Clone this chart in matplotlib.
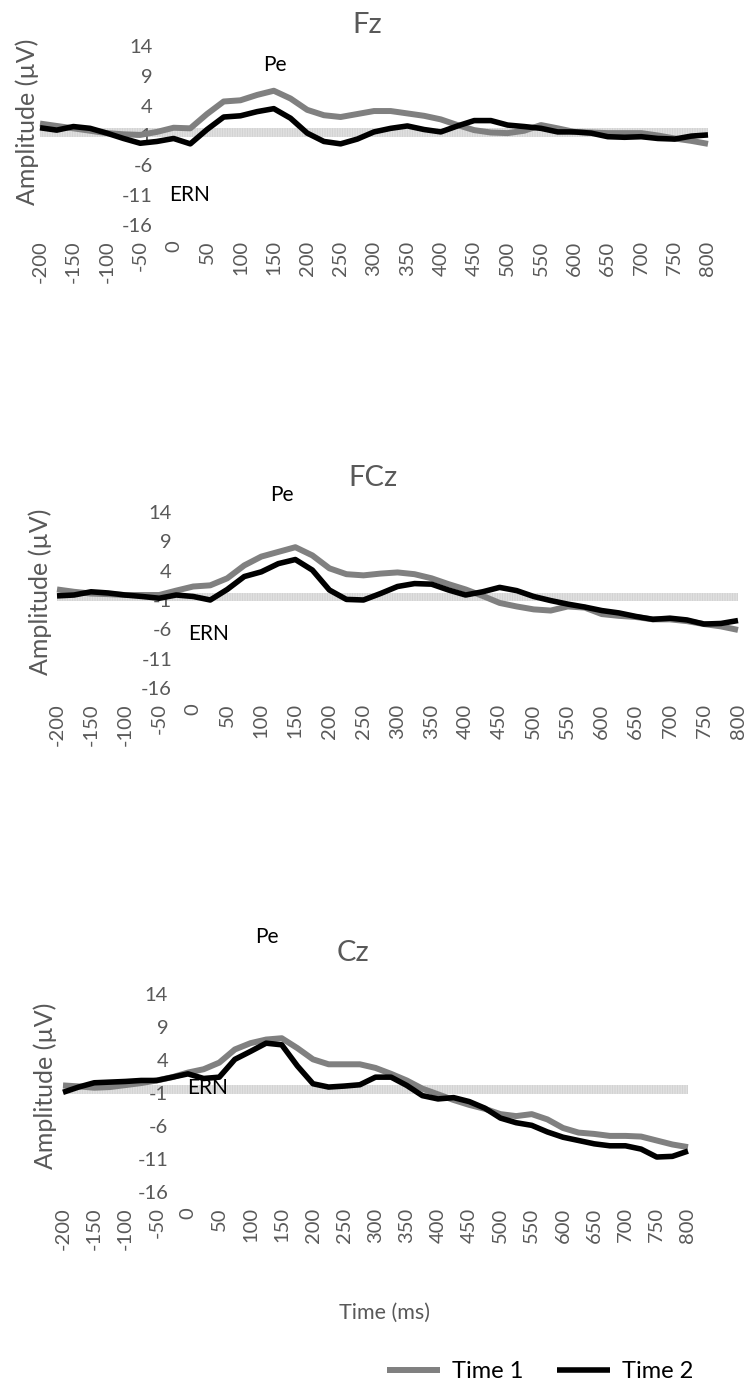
import matplotlib
matplotlib.use("Agg")
import matplotlib.pyplot as plt
import numpy as np

plt.rcParams['font.family'] = ['Lato', 'DejaVu Sans']
plt.rcParams['hatch.linewidth'] = 0.5

##############################################################################
# Data (uV every 25 ms)
times = list(range(-200, 801, 25))

fz_t1 = [1.0, 0.6, 0.2, -0.2, -0.6, -0.8, -0.9, -0.4, 0.3, 0.2, 2.6, 4.7, 4.9, 5.8,
         6.5, 5.2, 3.3, 2.4, 2.1, 2.6, 3.1, 3.1, 2.7, 2.3, 1.7, 0.75, -0.1, -0.5,
         -0.6, -0.2, 0.75, 0.2, -0.4, -0.5, -0.6, -0.6, -0.6, -1.0, -1.5, -1.9, -2.4]
fz_t2 = [0.3, -0.1, 0.5, 0.2, -0.6, -1.5, -2.3, -2.0, -1.5, -2.4, 0.0, 2.1, 2.3, 3.0,
         3.5, 1.9, -0.6, -2.0, -2.4, -1.6, -0.4, 0.2, 0.6, 0.0, -0.4, 0.6, 1.5, 1.5,
         0.75, 0.5, 0.2, -0.4, -0.4, -0.6, -1.2, -1.3, -1.2, -1.5, -1.6, -1.1, -0.9]

fcz_t1 = [0.8, 0.4, 0.1, 0.0, -0.15, -0.15, -0.15, 0.6, 1.3, 1.5, 2.7, 4.9, 6.4, 7.2,
          8.0, 6.6, 4.4, 3.4, 3.2, 3.5, 3.7, 3.4, 2.7, 1.7, 0.8, -0.3, -1.5, -2.1,
          -2.6, -2.8, -2.1, -2.3, -3.4, -3.7, -3.9, -4.3, -4.3, -4.6, -5.1, -5.5, -6.1]
fcz_t2 = [-0.3, -0.15, 0.4, 0.2, -0.15, -0.4, -0.7, -0.15, -0.4, -1.0, 0.8, 3.0, 3.8,
          5.2, 5.9, 4.1, 0.7, -0.9, -1.0, 0.1, 1.3, 1.8, 1.7, 0.7, -0.15, 0.4, 1.15,
          0.6, -0.4, -1.1, -1.7, -2.2, -2.8, -3.2, -3.8, -4.3, -4.1, -4.4, -5.1, -5.0, -4.5]

cz_t1 = [0.15, 0.0, -0.2, -0.1, 0.2, 0.5, 0.9, 1.4, 2.1, 2.6, 3.6, 5.6, 6.55, 7.1,
         7.3, 5.8, 4.1, 3.35, 3.35, 3.35, 2.8, 1.9, 0.9, -0.34, -1.2, -2.06, -2.8,
         -3.4, -4.2, -4.5, -4.2, -5.0, -6.3, -7.0, -7.2, -7.5, -7.5, -7.6, -8.2, -8.8, -9.2]
cz_t2 = [-0.9, -0.1, 0.55, 0.65, 0.75, 0.9, 0.9, 1.4, 1.9, 1.2, 1.4, 4.1, 5.3, 6.55,
         6.3, 3.1, 0.4, -0.1, 0.05, 0.25, 1.4, 1.4, 0.15, -1.4, -1.9, -1.7, -2.3,
         -3.3, -4.8, -5.5, -5.9, -6.9, -7.7, -8.2, -8.7, -9.0, -9.0, -9.5, -10.7, -10.6, -9.8]

xticks = list(range(-200, 801, 50))
yticks = [14, 9, 4, -1, -6, -11, -16]
series_names = ["Time 1", "Time 2"]
channels = ["Fz", "FCz", "Cz"]

##############################################################################
W, H = 748, 1391
fig = plt.figure(figsize=(W / 100, H / 100), dpi=100)
grey_txt = '#595959'

def px_axes(left, right, top, bottom):
    return fig.add_axes([left / W, 1 - bottom / H, (right - left) / W, (bottom - top) / H])

# (left, right, y of 14, y of -16) in pixels
boxes = [(40, 708, 46, 225), (57, 738, 512, 688), (63, 688, 994, 1192)]
data = [(fz_t1, fz_t2), (fcz_t1, fcz_t2), (cz_t1, cz_t2)]

axes = []
for (l, r, t, b), (s1, s2) in zip(boxes, data):
    ax = px_axes(l, r, t, b)
    ax.set_xlim(-200, 800)
    ax.set_ylim(-16, 14)
    ax.axhspan(-1.2, 0.2, facecolor='#e4e4e4', edgecolor='#cdcdcd',
               hatch='|' * 10, linewidth=0, zorder=1)
    l1, = ax.plot(times, s1, color='#808080', lw=4.3, solid_capstyle='butt',
                  solid_joinstyle='round', clip_on=False, zorder=3, label=series_names[0])
    l2, = ax.plot(times, s2, color='black', lw=4.0, solid_capstyle='butt',
                  solid_joinstyle='round', clip_on=False, zorder=4, label=series_names[1])
    for sp in ax.spines.values():
        sp.set_visible(False)
    ax.spines['left'].set_position(('data', -25))
    ax.set_yticks(yticks)
    ax.set_yticklabels([str(v) for v in yticks])
    ax.set_xticks(xticks)
    ax.set_xticklabels([str(v) for v in xticks], rotation=90)
    ax.tick_params(axis='y', length=0, pad=3, labelsize=14.5, labelcolor=grey_txt)
    ax.tick_params(axis='x', length=0, pad=11, labelsize=14.5, labelcolor=grey_txt)
    ax.patch.set_alpha(0)
    axes.append(ax)

# titles, axis labels, peak labels (pixel positions)
titles_pos = [(367, 25), (373, 478), (353, 953)]
ylab_pos = [(27, 122), (40, 592), (45, 1086)]
pe_pos = [(275, 65), (282, 495), (267, 937)]
ern_pos = [(190, 195), (209, 634), (208, 1088)]

for name, (tx, ty), (yx, yy), (px, py), (ex, ey) in zip(channels, titles_pos, ylab_pos, pe_pos, ern_pos):
    fig.text(tx / W, 1 - ty / H, name, ha='center', va='center', fontsize=21, color=grey_txt)
    fig.text(yx / W, 1 - yy / H, "Amplitude (µV)", ha='center', va='center',
             rotation=90, fontsize=18, color=grey_txt)
    fig.text(px / W, 1 - py / H, "Pe", ha='center', va='center', fontsize=15, color='black')
    fig.text(ex / W, 1 - ey / H, "ERN", ha='center', va='center', fontsize=15, color='black')

fig.text(384 / W, 1 - 1313 / H, "Time (ms)", ha='center', va='center', fontsize=15.5, color=grey_txt)

fig.legend([l1, l2], series_names, loc='center', bbox_to_anchor=(540 / W, 1 - 1372 / H),
           ncol=2, frameon=False, fontsize=17, handlelength=2.25, handletextpad=0.5,
           columnspacing=1.4)

fig.savefig("out.png", dpi=100)
